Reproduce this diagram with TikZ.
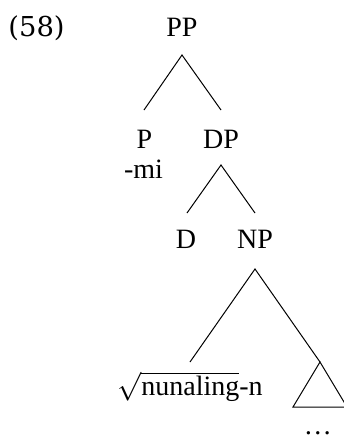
\documentclass[tikz,border=0pt]{standalone}
\usepackage{fontspec}
\setmainfont{Liberation Serif}
\newfontfamily\treefont{Liberation Serif}
\newfontfamily\exfont{DejaVu Serif}
\begin{document}
\begin{tikzpicture}[x=0.5pt,y=-0.5pt,
  lab/.style={anchor=base,inner sep=0pt,font=\treefont\fontsize{14}{16}\selectfont},
  branch/.style={line width=0.5pt,black}]
\useasboundingbox[fill=white] (0,0) rectangle (344,441);
\node[anchor=base west,inner sep=0pt,font=\exfont\fontsize{13.7}{16}\selectfont] (ex) at (8,36) {(58)};
\node[lab] (PP) at (182,36) {PP};
\node[lab] (P) at (144.5,148) {P};
\node[lab] (DP) at (221,148) {DP};
\node[lab] (mi) at (143.5,178) {-mi};
\node[lab] (D) at (186,248) {D};
\node[lab] (NP) at (255,248) {NP};
\node[lab] (root) at (190,395) {$\sqrt{\mbox{\treefont nunaling}}$-n};
\node[lab,text depth=0pt] (dots) at (318,434) {\ldots};
\coordinate (PPb) at (182,55);
\coordinate (Pt) at (144,110);
\coordinate (DPt) at (221,110);
\coordinate (DPb) at (221,165);
\coordinate (Dt) at (187,213);
\coordinate (NPt) at (255,213);
\coordinate (NPb) at (255,269);
\coordinate (rt) at (190,362);
\coordinate (tri) at (320,362);
\coordinate (triL) at (293,407);
\coordinate (triR) at (347,407);
\draw[branch] (Pt) -- (PPb) -- (DPt);
\draw[branch] (Dt) -- (DPb) -- (NPt);
\draw[branch] (rt) -- (NPb) -- (tri);
\draw[branch] (tri) -- (triL) -- (triR) -- cycle;
\end{tikzpicture}
\end{document}
